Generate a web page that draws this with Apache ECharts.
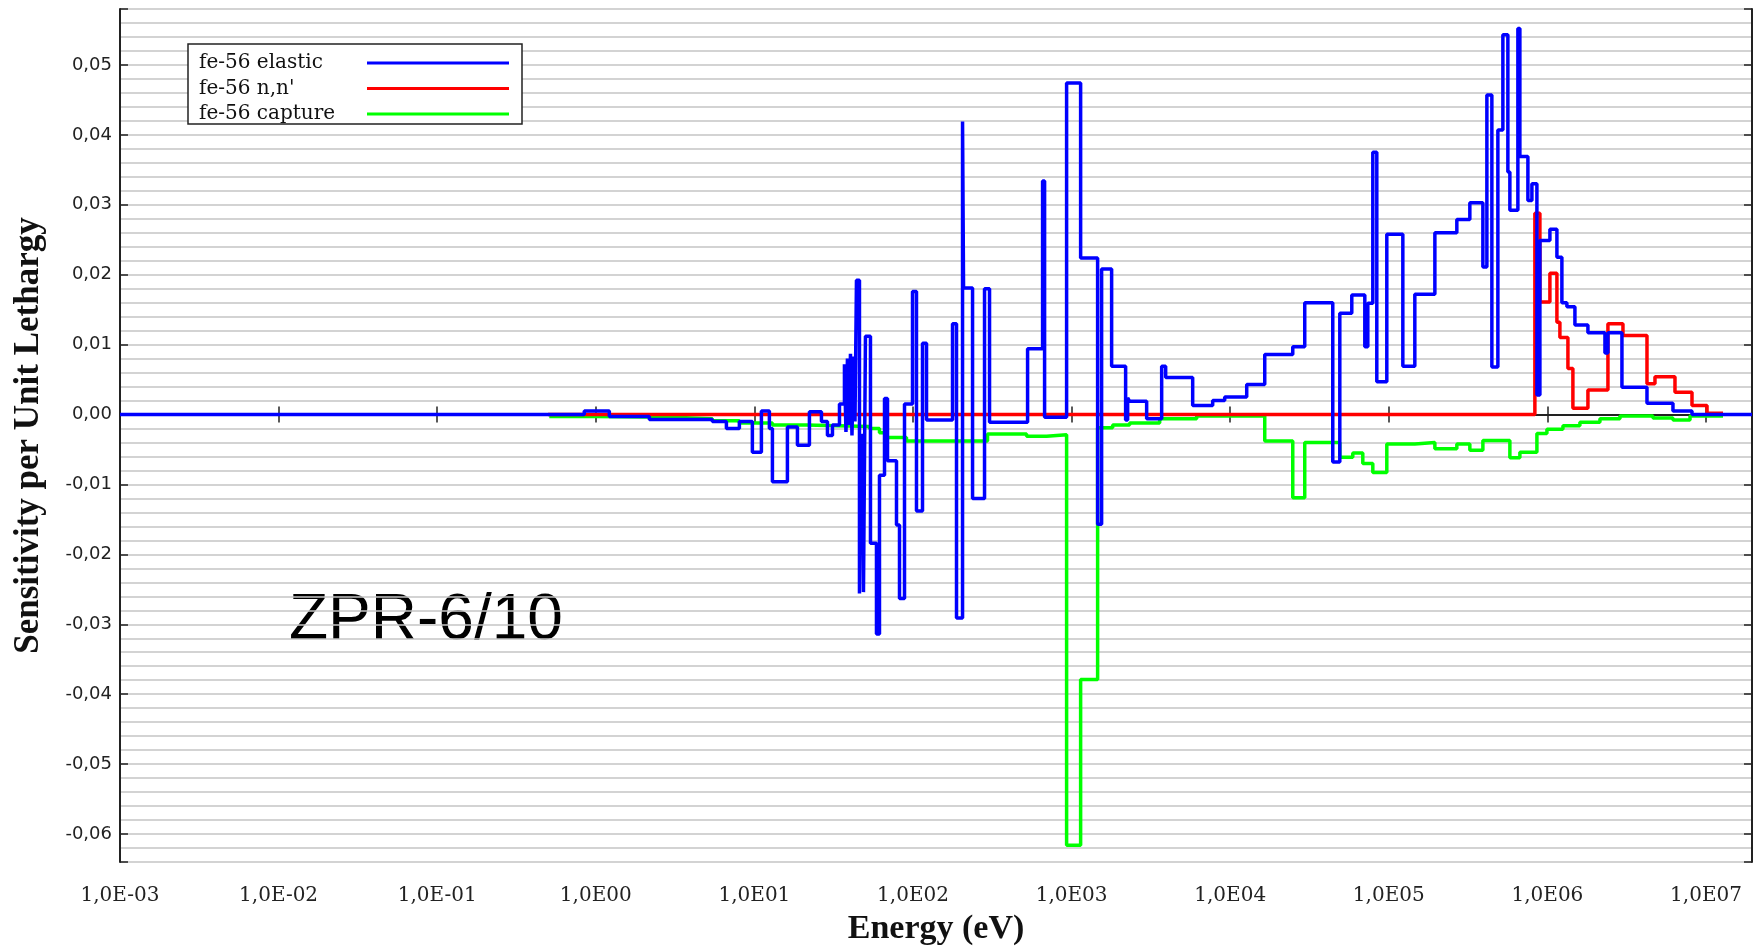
<!DOCTYPE html>
<html><head><meta charset="utf-8">
<script src="https://cdn.jsdelivr.net/npm/echarts@6/dist/echarts.min.js"></script>
<style>html,body{margin:0;padding:0;background:#fff;}#c{width:1758px;height:947px;}</style>
</head><body><div id="c"></div>
<script>
// ---- tick labels ----
const xTickExponents = [-3, -2, -1, 0, 1, 2, 3, 4, 5, 6, 7];
const xTickLabels = ['1,0E-03', '1,0E-02', '1,0E-01', '1,0E00', '1,0E01', '1,0E02', '1,0E03', '1,0E04', '1,0E05', '1,0E06', '1,0E07'];
const yTickValues = [-0.06, -0.05, -0.04, -0.03, -0.02, -0.01, 0, 0.01, 0.02, 0.03, 0.04, 0.05];
const yTickLabels = ['-0,06', '-0,05', '-0,04', '-0,03', '-0,02', '-0,01', '0,00', '0,01', '0,02', '0,03', '0,04', '0,05'];

// ---- fe-56 elastic: group boundaries (eV) and sensitivity per group ----
const elasticE = [0.001, 0.846, 1.217, 2.175, 5.43, 6.66, 8.04, 9.71, 11.07, 12.43, 12.99, 16.15, 18.68, 22.23, 26.47, 28.88, 31.06, 34.39, 36.96, 37.78, 38.61, 39.47, 40.34, 41.23, 42.14, 43.07, 44.01, 45.97, 47.32, 48.72, 50.15, 53.93, 58.85, 61.47, 66.12, 69.06, 78.7, 82.2, 88.4, 99.3, 105.2, 114.8, 121.7, 177.5, 188.1, 205.3, 208.3, 237.4, 282.5, 303.8, 527.8, 656.2, 675.6, 930, 1140, 1459, 1546, 1788, 2191, 2256, 2322, 2973, 3697, 3918, 5800, 7755, 9232, 12710, 16510, 24800, 29510, 44330, 49100, 58430, 70590, 73730, 79280, 84010, 97140, 122600, 145900, 195200, 268500, 324300, 391900, 415300, 446500, 487200, 523900, 563300, 579900, 651400, 670600, 753400, 798500, 858600, 896900, 1.037e6, 1.148e6, 1.234e6, 1.327e6, 1.491e6, 1.801e6, 2.306e6, 2.408e6, 2.951e6, 4.245e6, 6.19e6, 8.16e6, 1.95e7];
const elasticS = [0, 0.0005, -0.0003, -0.0007, -0.0010, -0.0020, -0.0010, -0.0054, 0.0005, -0.0020, -0.0096, -0.0018, -0.0044, 0.0004, -0.0010, -0.0030, -0.0015, 0.0015, 0.0072, -0.0025, 0.0080, -0.0015, 0.0087, -0.0030, 0.0083, -0.0010, 0.0192, -0.0256, -0.0030, -0.0254, 0.0112, -0.0184, -0.0314, -0.0087, 0.0023, -0.0066, -0.0158, -0.0263, 0.0015, 0.0176, -0.0138, 0.0102, -0.0008, 0.0130, -0.0291, 0.0419, 0.0181, -0.0120, 0.0180, -0.0011, 0.0094, 0.0334, -0.0004, 0.0474, 0.0224, -0.0157, 0.0208, 0.0069, -0.0008, 0.0024, 0.0019, -0.0006, 0.0069, 0.0053, 0.0013, 0.0020, 0.0025, 0.0043, 0.0086, 0.0097, 0.0160, -0.0068, 0.0145, 0.0171, 0.0097, 0.0159, 0.0375, 0.0047, 0.0258, 0.0069, 0.0172, 0.0260, 0.0279, 0.0303, 0.0211, 0.0457, 0.0068, 0.0407, 0.0543, 0.0347, 0.0292, 0.0552, 0.0369, 0.0306, 0.0330, 0.0028, 0.0249, 0.0265, 0.0225, 0.0160, 0.0154, 0.0128, 0.0117, 0.0088, 0.0117, 0.0039, 0.0016, 0.0005, 0];

// ---- fe-56 n,n' ----
const inelasticE = [0.5, 8.337e5, 8.969e5, 1.037e6, 1.148e6, 1.199e6, 1.347e6, 1.448e6, 1.801e6, 2.408e6, 2.995e6, 4.245e6, 4.767e6, 6.374e6, 8.16e6, 1.015e7, 1.28e7];
const inelasticS = [0, 0.0288, 0.0161, 0.0202, 0.0132, 0.0110, 0.0066, 0.0009, 0.0035, 0.0130, 0.0113, 0.0044, 0.0054, 0.0032, 0.0013, 0.0002];

// ---- fe-56 capture ----
const captureE = [0.509, 1.007, 3.038, 5.43, 8.04, 12.99, 21.29, 53.15, 61.47, 68.06, 91.0, 295.1, 520.2, 695.6, 930, 1140, 1459, 1815, 2322, 3591, 6145, 16510, 24800, 29510, 49100, 59280, 68550, 79280, 97140, 145900, 195200, 268500, 324300, 391900, 579900, 670600, 858600, 9.93e5, 1.253e6, 1.603e6, 2.144e6, 2.867e6, 4.63e6, 6.19e6, 7.93e6, 1.28e7];
const captureS = [-0.0003, -0.0004, -0.0006, -0.0009, -0.0012, -0.0015, -0.0017, -0.0020, -0.0026, -0.0033, -0.0038, -0.0028, -0.0031, -0.0029, -0.0616, -0.0379, -0.0019, -0.0015, -0.0012, -0.0006, -0.0002, -0.0038, -0.0119, -0.0040, -0.0061, -0.0055, -0.0070, -0.0083, -0.0042, -0.0040, -0.0049, -0.0042, -0.0051, -0.0037, -0.0062, -0.0054, -0.0027, -0.0021, -0.0016, -0.0011, -0.0006, -0.0002, -0.0005, -0.0008, -0.0002];

const seriesNames = ['fe-56 elastic', "fe-56 n,n'", 'fe-56 capture'];

function steps(E, S) {
  const d = [];
  for (let i = 0; i < S.length; i++) d.push([E[i], S[i]]);
  d.push([E[E.length - 1], S[S.length - 1]]);
  return d;
}
function xLabel(v) {
  const l = Math.log10(v);
  const i = xTickExponents.findIndex(e => Math.abs(e - l) < 1e-6);
  return i < 0 ? '' : xTickLabels[i];
}
function yLabel(v) {
  const i = yTickValues.findIndex(t => Math.abs(t - v) < 1e-7);
  return i < 0 ? '' : yTickLabels[i];
}

const X_MIN = 1e-3, X_MAX = 1.95e7, Y_MIN = -0.064, Y_MAX = 0.058;
const frame = { show: true, lineStyle: { color: '#222', width: 2 } };
const tick = { show: true, inside: true, length: 8, lineStyle: { color: '#222', width: 1.5 } };

const chart = echarts.init(document.getElementById('c'));
chart.setOption({
  animation: false,
  backgroundColor: '#fff',
  grid: { left: 120, top: 9, width: 1632, height: 853, outerBoundsMode: 'none', containLabel: false },
  legend: {
    data: seriesNames,
    left: 188, top: 44,
    orient: 'vertical', align: 'right',
    padding: [9, 13, 0, 11], itemGap: 5.5,
    itemWidth: 142, itemHeight: 3, icon: 'rect',
    borderColor: '#222', borderWidth: 1.5, backgroundColor: '#fff',
    formatter: name => '{t|' + name + '}',
    textStyle: {
      fontFamily: 'DejaVu Serif', fontSize: 20, color: '#111',
      rich: { t: { width: 163, align: 'left', fontFamily: 'DejaVu Serif', fontSize: 20, color: '#111', lineHeight: 16 } }
    }
  },
  xAxis: [
    {
      type: 'log', logBase: 10, min: X_MIN, max: X_MAX, interval: 1, position: 'bottom',
      axisLine: frame, axisTick: tick, splitLine: { show: false },
      axisLabel: { formatter: xLabel, margin: 24, fontFamily: 'DejaVu Serif', fontSize: 20, color: '#222' },
      name: 'Energy (eV)', nameLocation: 'middle', nameGap: 50,
      nameTextStyle: { fontFamily: 'Liberation Serif', fontWeight: 'bold', fontSize: 34, color: '#111' }
    },
    {
      type: 'log', logBase: 10, min: X_MIN, max: X_MAX, interval: 1, position: 'top',
      axisLine: frame, axisTick: tick, axisLabel: { show: false }, splitLine: { show: false }
    }
  ],
  yAxis: [
    {
      type: 'value', min: Y_MIN, max: Y_MAX, interval: 0.002, position: 'left',
      axisLine: frame, axisTick: { show: false },
      axisLabel: { formatter: yLabel, margin: 8, fontFamily: 'DejaVu Sans', fontSize: 18, color: '#222' },
      splitLine: { show: true, lineStyle: { color: '#c4c4c4', width: 1.5 } },
      name: 'Sensitivity per Unit Lethargy', nameLocation: 'middle', nameGap: 74,
      nameTextStyle: { fontFamily: 'Liberation Serif', fontWeight: 'bold', fontSize: 35, color: '#111' }
    },
    {
      type: 'value', min: Y_MIN, max: Y_MAX, splitNumber: 12, position: 'left',
      axisLine: { show: false }, axisTick: tick, axisLabel: { show: false }, splitLine: { show: false }
    },
    {
      type: 'value', min: Y_MIN, max: Y_MAX, splitNumber: 12, position: 'right',
      axisLine: frame, axisTick: tick, axisLabel: { show: false }, splitLine: { show: false }
    }
  ],
  graphic: [{
    type: 'text', left: 289, top: 589,
    style: { text: 'ZPR-6/10', font: '64px "Liberation Sans"', fill: '#000' }
  }],
  series: [
    {
      name: seriesNames[2], type: 'line', step: 'end', data: steps(captureE, captureS),
      symbol: 'none', showSymbol: false, z: 2,
      lineStyle: { color: '#00ff00', width: 3.5 }, itemStyle: { color: '#00ff00' }
    },
    {
      name: seriesNames[1], type: 'line', step: 'end', data: steps(inelasticE, inelasticS),
      symbol: 'none', showSymbol: false, z: 3,
      lineStyle: { color: '#ff0000', width: 3.5 }, itemStyle: { color: '#ff0000' }
    },
    {
      name: seriesNames[0], type: 'line', step: 'end', data: steps(elasticE, elasticS),
      symbol: 'none', showSymbol: false, z: 4,
      lineStyle: { color: '#0000ff', width: 3.5 }, itemStyle: { color: '#0000ff' }
    }
  ]
});
</script>
</body></html>
